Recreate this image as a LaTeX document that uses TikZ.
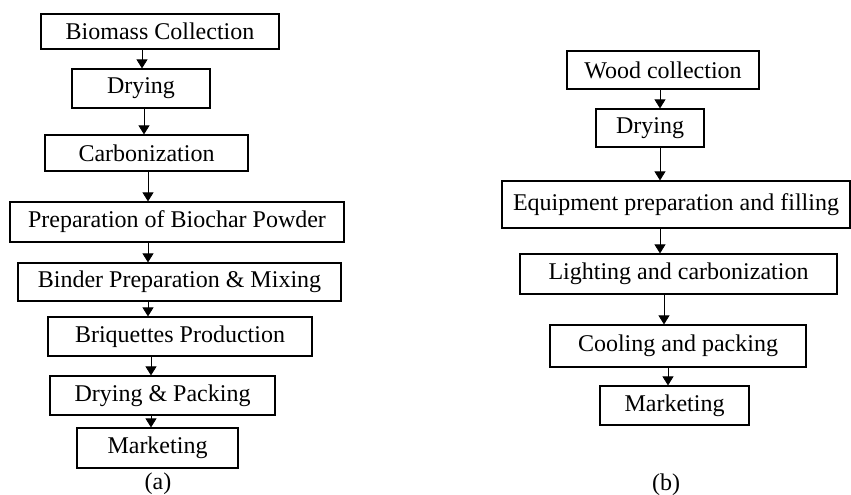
\documentclass[tikz,border=0pt]{standalone}
\usepackage{fontspec}
\setmainfont{Liberation Serif}
\usepackage{tikz}
\usetikzlibrary{arrows.meta,positioning}

\begin{document}
\begin{tikzpicture}[x=1pt,y=1pt,
  box/.style={draw,line width=0.6pt,inner sep=0pt,align=center,
    font=\fontsize{12}{14}\selectfont},
  sublabel/.style={inner sep=0pt,font=\fontsize{12}{14}\selectfont},
  >={Triangle[width=5.5pt,length=4.5pt]}, every edge/.style={draw,->,line width=0.4pt}]
  \useasboundingbox (0,0) rectangle (425.5,-247);
  % (a) briquettes
  \node[box,minimum width=119pt,minimum height=17.5pt] (bc) at (80,-15.75) {Biomass Collection};
  \node[box,minimum width=69pt,minimum height=19.5pt] (dr) at (70.5,-44.25) {Drying};
  \node[box,minimum width=101.5pt,minimum height=18pt] (cb) at (73.25,-76.5) {Carbonization};
  \node[box,minimum width=167pt,minimum height=20pt] (pb) at (88.5,-111) {Preparation of Biochar Powder};
  \node[box,minimum width=161.5pt,minimum height=19pt] (bm) at (89.75,-141) {Binder Preparation \& Mixing};
  \node[box,minimum width=132pt,minimum height=19.5pt] (bp) at (90,-168.25) {Briquettes Production};
  \node[box,minimum width=112.5pt,minimum height=19.5pt] (dp) at (81.25,-197.75) {Drying \& Packing};
  \node[box,minimum width=80.5pt,minimum height=20pt] (mk) at (78.75,-224) {Marketing};
  \node[sublabel] (la) at (79,-242) {(a)};
  \draw (bc.south -| 71,0) edge (dr.north -| 71,0);
  \draw (dr.south -| 72,0) edge (cb.north -| 72,0);
  \draw (cb.south -| 74,0) edge (pb.north -| 74,0);
  \draw (pb.south -| 74,0) edge (bm.north -| 74,0);
  \draw (bm.south -| 74,0) edge (bp.north -| 74,0);
  \draw (bp.south -| 75.5,0) edge (dp.north -| 75.5,0);
  \draw (dp.south -| 75.5,0) edge (mk.north -| 75.5,0);
  % (b) charcoal
  \node[box,minimum width=96pt,minimum height=19pt] (wc) at (331.5,-35) {Wood collection};
  \node[box,minimum width=54pt,minimum height=19pt] (rd) at (325,-64) {Drying};
  \node[box,minimum width=174pt,minimum height=23.5pt] (ep) at (338,-102.25) {Equipment preparation and filling};
  \node[box,minimum width=158.5pt,minimum height=20pt] (lc) at (339.25,-137) {Lighting and carbonization};
  \node[box,minimum width=128pt,minimum height=21pt] (cp) at (339,-173) {Cooling and packing};
  \node[box,minimum width=74.5pt,minimum height=19.5pt] (rm) at (337.25,-202.75) {Marketing};
  \node[sublabel] (lb) at (333,-242.5) {(b)};
  \draw (wc.south -| 330,0) edge (rd.north -| 330,0);
  \draw (rd.south -| 330,0) edge (ep.north -| 330,0);
  \draw (ep.south -| 330,0) edge (lc.north -| 330,0);
  \draw (lc.south -| 332,0) edge (cp.north -| 332,0);
  \draw (cp.south -| 334,0) edge (rm.north -| 334,0);
\end{tikzpicture}
\end{document}
